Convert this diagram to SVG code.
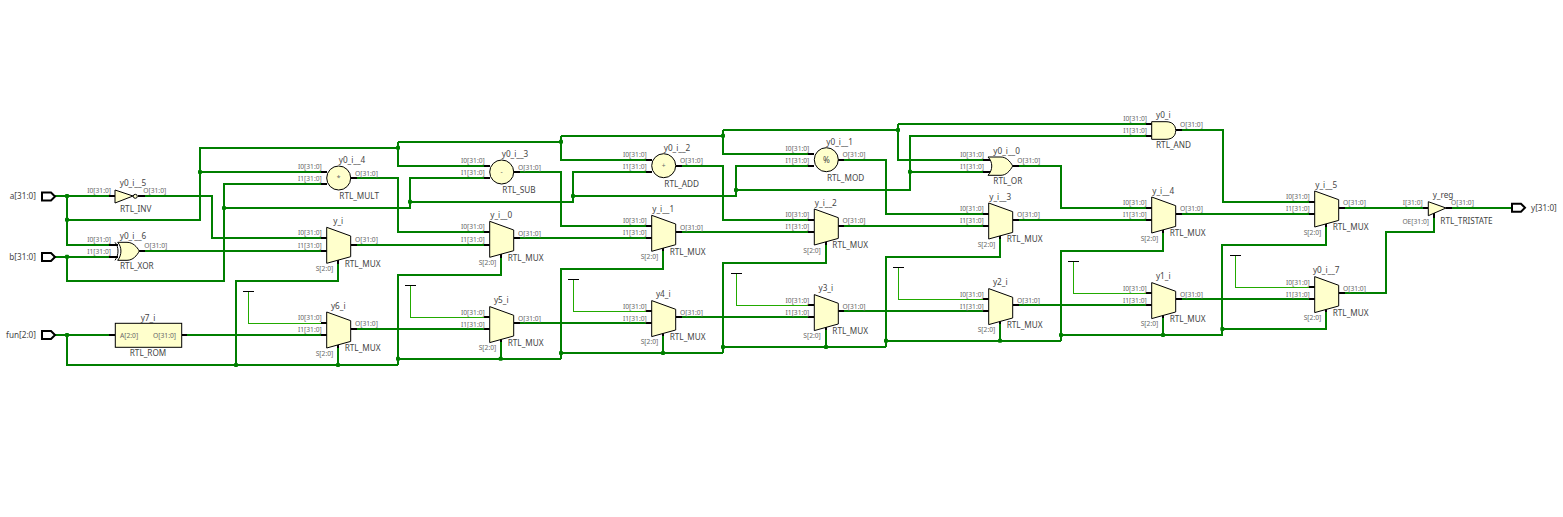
<svg xmlns="http://www.w3.org/2000/svg" width="1563" height="517" viewBox="0 0 1563 517">
<style>
text{font-family:"Noto Sans","Open Sans","DejaVu Sans",sans-serif}
.n{font-size:8.2px;fill:#444}
.p{font-size:6.7px;fill:#666}
.e{text-anchor:end}
.m{text-anchor:middle}
.w{fill:none;stroke:#007f00;stroke-width:2;shape-rendering:crispEdges}
.t{fill:none;stroke:#22aa00;stroke-width:1;shape-rendering:crispEdges}
.s{fill:none;stroke:#000;stroke-width:2;shape-rendering:crispEdges}
.b{fill:none;stroke:#000;stroke-width:1}
.bc{fill:none;stroke:#000;stroke-width:1;shape-rendering:crispEdges}
.f{fill:#ffffcc;stroke:#000;stroke-width:1}
.port{fill:#fff;stroke:#000;stroke-width:2}
</style>
<defs>
<polygon id="mux" class="f" points="0,-10.7 24,-2 24,18.7 0,25.3"/>
<rect id="j" x="-2" y="-2" width="4" height="4" rx="1" fill="#007f00"/>
</defs>
<g id="connectors">
<path class="w" d="M55 196H109M67 196V244.7H109M67 219.7H200V148H398M200 172H320.7M145 196H211.7V238H320.7M145 251H320.7M55 256.7H109M67 256.7V280.7H224V184H320.7M224 208H410V177.7H483.7M410 201.7H573V171.7H645.7M573 196H736V165.7H808.3M736 190H910V136H1145.7M910 171.7H982.7"/>
<path class="w" d="M398 141.7V166H483.7M398 141.7H561M561 135.7V159.7H645.7M561 135.7H723M723 129.7V153.7H808.3M723 129.7H898M898 124V160H982.7M898 124H1145.7"/>
<path class="w" d="M356.7 178H398V232H483.7M519.7 171.7H561V226H645.7M681.3 165.7H723V219.7H808.3M844.3 160H886V213.7H982.7M1018 166H1061V207.7H1145.7M1181.7 129.7H1223V201.7H1308.7"/>
<path class="w" d="M356.7 245H483.7M519.7 237.7H645.7M681.7 231.7H808.3M844.3 225.7H982.7M1018.7 219.7H1145.7M1181.7 213.7H1308.7M1344.7 207.7H1423M1452 207.7H1511"/>
<path class="w" d="M356.7 329H483.7M519.7 322.7H645.7M681.7 317H808.3M844.3 311H982.7M1018.7 304.7H1145.7M1181.7 299H1308.7M1344.7 292.7H1385.7V231.7H1434V218"/>
<path class="w" d="M55 335H109M187 335H320.7M67 335V365H398"/>
<path class="w" d="M338 263V280.7H236V365M338 348V365M500.7 257V274.7H398V365M398 358.7H561M500.7 342V358.7M663 251V269H561V358.7M561 353H723M663 336V353M826 245V263H723V353M723 347H886M826 330V347M1000 239V256.7H886V347M886 340.7H1061M1000 324V340.7M1163 233V250.7H1061V340.7M1061 335H1223M1163 318V335M1326 227V244.7H1222.3V335M1222.3 329H1326V312"/>
<path class="t" d="M248.3 291.3V323.3H326.7M410.3 285.3V317.3H489.7M573.7 279.3V311.3H651.7M736.3 273.3V305.3H814.3M898.3 267.3V299.3H988.7M1073.3 261.3V293.3H1151.7M1235.7 255.3V287.3H1314.7"/>
<path class="bc" d="M243 291.3H254M405 285.3H416M568 279.3H579M731 273.3H742M893 267.3H904M1068 261.3H1079M1230 255.3H1241"/>
<g id="junctions">
<use href="#j" x="67" y="196"/><use href="#j" x="67" y="219.7"/><use href="#j" x="67" y="256.7"/><use href="#j" x="67" y="335"/><use href="#j" x="200" y="172"/><use href="#j" x="224" y="208"/><use href="#j" x="398" y="147.7"/><use href="#j" x="410" y="201.7"/><use href="#j" x="561" y="141.7"/><use href="#j" x="573" y="196"/><use href="#j" x="723" y="135.7"/><use href="#j" x="736" y="190"/><use href="#j" x="898" y="130"/><use href="#j" x="910" y="171.7"/><use href="#j" x="236" y="365"/><use href="#j" x="338" y="365"/><use href="#j" x="398" y="358.7"/><use href="#j" x="500.7" y="358.7"/><use href="#j" x="561" y="353"/><use href="#j" x="663" y="353"/><use href="#j" x="723" y="347"/><use href="#j" x="826" y="347"/><use href="#j" x="886" y="340.7"/><use href="#j" x="1000" y="340.7"/><use href="#j" x="1061" y="335"/><use href="#j" x="1163" y="335"/><use href="#j" x="1222.3" y="329"/>
</g>
</g>
<g id="port_a"><path class="port" d="M42 192.5H51L55 196.5L51 200.5H42Z"/><text class="n e" x="36" y="199">a[31:0]</text></g>
<g id="port_b"><path class="port" d="M42 253H51L55 257L51 261H42Z"/><text class="n e" x="36" y="260">b[31:0]</text></g>
<g id="port_fun"><path class="port" d="M42 331H51L55 335L51 339H42Z"/><text class="n e" x="36" y="338">fun[2:0]</text></g>
<g id="port_y"><path class="port" d="M1512 203.7H1521L1525 207.7L1521 211.7H1512Z"/><text class="n" x="1531" y="211">y[31:0]</text></g>

<g id="y0_i__5"><path class="s" d="M109 196H115M138 196H145"/><polygon class="f" points="115,190 133,196 115,203"/><circle class="f" cx="135.3" cy="196.3" r="2"/><text class="n m" x="133" y="186">y0_i__5</text><text class="n" x="120" y="211.7">RTL_INV</text><text class="p e" x="111" y="192.7">I0[31:0]</text><text class="p" x="143.3" y="192.7">O[31:0]</text></g>
<g id="y0_i__6"><path class="s" d="M109 244.7H118M109 256.7H118M139 251H145"/><path class="f" d="M117.7 242.3H127C133 242.3 137 247 139.3 251C137 255.5 133 260.3 127 260.3H117.7C122 255 122 247 117.7 242.3Z"/><path class="b" d="M115 242.3C119 247 119 255 115 260.3"/><text class="n m" x="133" y="239">y0_i__6</text><text class="n" x="120" y="268.7">RTL_XOR</text><text class="p e" x="111" y="241.7">I0[31:0]</text><text class="p e" x="111" y="254">I1[31:0]</text><text class="p" x="144.3" y="247.7">O[31:0]</text></g>
<g id="y7_i"><path class="s" d="M109 335H115.3M181.7 335H187"/><rect class="f" x="115.3" y="323.3" width="66.4" height="24"/><text class="n m" x="148" y="320.7">y7_i</text><text class="n m" x="148" y="355.7">RTL_ROM</text><text class="p" x="120" y="337.7">A[2:0]</text><text class="p e" x="176" y="337.7">O[31:0]</text></g>

<g id="y0_i__4" transform="translate(326.7 172)"><path class="s" d="M-6 0H0M-6 12H0M24 6H30"/><circle class="f" cx="12" cy="6" r="12"/><text class="p m" x="12" y="8">*</text><text class="n" x="12" y="-9">y0_i__4</text><text class="n" x="12.6" y="27">RTL_MULT</text><text class="p e" x="-5" y="-2.7">I0[31:0]</text><text class="p e" x="-5" y="9.3">I1[31:0]</text><text class="p" x="28.3" y="3.7">O[31:0]</text></g>
<g id="y0_i__3" transform="translate(489.7 166)"><path class="s" d="M-6 0H0M-6 12H0M24 6H30"/><circle class="f" cx="12" cy="6" r="12"/><text class="p m" x="12" y="8">-</text><text class="n" x="12" y="-9">y0_i__3</text><text class="n" x="12.6" y="27">RTL_SUB</text><text class="p e" x="-5" y="-2.7">I0[31:0]</text><text class="p e" x="-5" y="9.3">I1[31:0]</text><text class="p" x="28.3" y="3.7">O[31:0]</text></g>
<g id="y0_i__2" transform="translate(651.7 159.7)"><path class="s" d="M-6 0H0M-6 12H0M24 6H30"/><circle class="f" cx="12" cy="6" r="12"/><text class="p m" x="12" y="8">+</text><text class="n" x="12" y="-9">y0_i__2</text><text class="n" x="12.6" y="27">RTL_ADD</text><text class="p e" x="-5" y="-2.7">I0[31:0]</text><text class="p e" x="-5" y="9.3">I1[31:0]</text><text class="p" x="28.3" y="3.7">O[31:0]</text></g>
<g id="y0_i__1" transform="translate(814.3 153.7)"><path class="s" d="M-6 0H0M-6 12H0M24 6H30"/><circle class="f" cx="12" cy="6" r="12"/><text class="n m" x="12" y="9">%</text><text class="n" x="12" y="-9">y0_i__1</text><text class="n" x="12.6" y="27">RTL_MOD</text><text class="p e" x="-5" y="-2.7">I0[31:0]</text><text class="p e" x="-5" y="9.3">I1[31:0]</text><text class="p" x="28.3" y="3.7">O[31:0]</text></g>
<g id="y0_i__0"><path class="s" d="M982.7 160H990M982.7 171.7H990M1012.7 166H1018.7"/><path class="f" d="M988 157H1001C1006 157 1010 161 1012.7 166C1010 171 1006 175.3 1001 175.3H988C993 170 993 162 988 157Z"/><text class="n" x="993.3" y="154">y0_i__0</text><text class="n" x="993.3" y="184">RTL_OR</text><text class="p e" x="984" y="157">I0[31:0]</text><text class="p e" x="984" y="169">I1[31:0]</text><text class="p" x="1017.3" y="163">O[31:0]</text></g>
<g id="y0_i"><path class="s" d="M1145.7 124H1151.7M1145.7 135.7H1151.7M1175.7 129.7H1181.7"/><path class="f" d="M1151.7 121.7H1166C1172 121.7 1175.7 125 1175.7 130.5C1175.7 136 1172 139.3 1166 139.3H1151.7Z"/><text class="n" x="1156" y="117.7">y0_i</text><text class="n" x="1156" y="147.7">RTL_AND</text><text class="p e" x="1147" y="120.7">I0[31:0]</text><text class="p e" x="1147" y="133">I1[31:0]</text><text class="p" x="1180" y="127.3">O[31:0]</text></g>

<g id="y_i" transform="translate(326.7 238)"><path class="s" d="M-6 0H0M-6 13H0M24 7H30M11.3 21V26"/><use href="#mux"/><text class="n m" x="11.5" y="-14">y_i</text><text class="n" x="18" y="28.7">RTL_MUX</text><text class="p e" x="-5" y="-2.7">I0[31:0]</text><text class="p e" x="-5" y="9.7">I1[31:0]</text><text class="p" x="28.3" y="4.3">O[31:0]</text><text class="p e" x="6.5" y="33">S[2:0]</text></g>
<g id="y_i__0" transform="translate(489.7 232)"><path class="s" d="M-6 0H0M-6 13H0M24 6H30M11 21V26"/><use href="#mux"/><text class="n m" x="11.5" y="-14">y_i__0</text><text class="n" x="18" y="28.7">RTL_MUX</text><text class="p e" x="-5" y="-2.7">I0[31:0]</text><text class="p e" x="-5" y="9.7">I1[31:0]</text><text class="p" x="28.3" y="3.7">O[31:0]</text><text class="p e" x="6.5" y="33">S[2:0]</text></g>
<g id="y_i__1" transform="translate(651.7 226)"><path class="s" d="M-6 0H0M-6 12H0M24 6H30M11.3 20V25"/><use href="#mux"/><text class="n m" x="11.5" y="-14">y_i__1</text><text class="n" x="18" y="28.7">RTL_MUX</text><text class="p e" x="-5" y="-2.7">I0[31:0]</text><text class="p e" x="-5" y="9.3">I1[31:0]</text><text class="p" x="28.3" y="3.7">O[31:0]</text><text class="p e" x="6.5" y="33">S[2:0]</text></g>
<g id="y_i__2" transform="translate(814.3 219.7)"><path class="s" d="M-6 0H0M-6 12H0M24 6H30M11.7 20V25"/><use href="#mux"/><text class="n m" x="11.5" y="-14">y_i__2</text><text class="n" x="18" y="28.7">RTL_MUX</text><text class="p e" x="-5" y="-2.7">I0[31:0]</text><text class="p e" x="-5" y="9.3">I1[31:0]</text><text class="p" x="28.3" y="3.7">O[31:0]</text><text class="p e" x="6.5" y="33">S[2:0]</text></g>
<g id="y_i__3" transform="translate(988.7 213.7)"><path class="s" d="M-6 0H0M-6 12H0M24 6H30M11.3 20V25"/><use href="#mux"/><text class="n m" x="11.5" y="-14">y_i__3</text><text class="n" x="18" y="28.7">RTL_MUX</text><text class="p e" x="-5" y="-2.7">I0[31:0]</text><text class="p e" x="-5" y="9.3">I1[31:0]</text><text class="p" x="28.3" y="3.7">O[31:0]</text><text class="p e" x="6.5" y="33">S[2:0]</text></g>
<g id="y_i__4" transform="translate(1151.7 207.7)"><path class="s" d="M-6 0H0M-6 12H0M24 6H30M11.3 20V25"/><use href="#mux"/><text class="n m" x="11.5" y="-14">y_i__4</text><text class="n" x="18" y="28.7">RTL_MUX</text><text class="p e" x="-5" y="-2.7">I0[31:0]</text><text class="p e" x="-5" y="9.3">I1[31:0]</text><text class="p" x="28.3" y="3.7">O[31:0]</text><text class="p e" x="6.5" y="33">S[2:0]</text></g>
<g id="y_i__5" transform="translate(1314.7 201.7)"><path class="s" d="M-6 0H0M-6 12H0M24 6H30M11.3 20V25"/><use href="#mux"/><text class="n m" x="11.5" y="-14">y_i__5</text><text class="n" x="18" y="28.7">RTL_MUX</text><text class="p e" x="-5" y="-2.7">I0[31:0]</text><text class="p e" x="-5" y="9.3">I1[31:0]</text><text class="p" x="28.3" y="3.7">O[31:0]</text><text class="p e" x="6.5" y="33">S[2:0]</text></g>

<g id="y6_i" transform="translate(326.7 322.7)"><path class="s" d="M-6 0H0M-6 12.3H0M24 6H30M11.3 20V25"/><use href="#mux"/><text class="n m" x="11.5" y="-14">y6_i</text><text class="n" x="18" y="28.7">RTL_MUX</text><text class="p e" x="-5" y="-2.7">I0[31:0]</text><text class="p e" x="-5" y="9.3">I1[31:0]</text><text class="p" x="28.3" y="3.7">O[31:0]</text><text class="p e" x="6.5" y="33">S[2:0]</text></g>
<g id="y5_i" transform="translate(489.7 317.3)"><path class="s" d="M-6 0H0M-6 12H0M24 6H30M11 20V25"/><use href="#mux"/><text class="n m" x="11.5" y="-14">y5_i</text><text class="n" x="18" y="28.7">RTL_MUX</text><text class="p e" x="-5" y="-2.7">I0[31:0]</text><text class="p e" x="-5" y="9.3">I1[31:0]</text><text class="p" x="28.3" y="3.7">O[31:0]</text><text class="p e" x="6.5" y="33">S[2:0]</text></g>
<g id="y4_i" transform="translate(651.7 311.3)"><path class="s" d="M-6 0H0M-6 11.7H0M24 6H30M11.3 20V25"/><use href="#mux"/><text class="n m" x="11.5" y="-14">y4_i</text><text class="n" x="18" y="28.7">RTL_MUX</text><text class="p e" x="-5" y="-2.7">I0[31:0]</text><text class="p e" x="-5" y="9.3">I1[31:0]</text><text class="p" x="28.3" y="3.7">O[31:0]</text><text class="p e" x="6.5" y="33">S[2:0]</text></g>
<g id="y3_i" transform="translate(814.3 305.3)"><path class="s" d="M-6 0H0M-6 11.7H0M24 6H30M11.7 20V25"/><use href="#mux"/><text class="n m" x="11.5" y="-14">y3_i</text><text class="n" x="18" y="28.7">RTL_MUX</text><text class="p e" x="-5" y="-2.7">I0[31:0]</text><text class="p e" x="-5" y="9.3">I1[31:0]</text><text class="p" x="28.3" y="3.7">O[31:0]</text><text class="p e" x="6.5" y="33">S[2:0]</text></g>
<g id="y2_i" transform="translate(988.7 299.3)"><path class="s" d="M-6 0H0M-6 11.7H0M24 6H30M11.3 20V25"/><use href="#mux"/><text class="n m" x="11.5" y="-14">y2_i</text><text class="n" x="18" y="28.7">RTL_MUX</text><text class="p e" x="-5" y="-2.7">I0[31:0]</text><text class="p e" x="-5" y="9.3">I1[31:0]</text><text class="p" x="28.3" y="3.7">O[31:0]</text><text class="p e" x="6.5" y="33">S[2:0]</text></g>
<g id="y1_i" transform="translate(1151.7 293.3)"><path class="s" d="M-6 0H0M-6 11.4H0M24 6H30M11.3 20V25"/><use href="#mux"/><text class="n m" x="11.5" y="-14">y1_i</text><text class="n" x="18" y="28.7">RTL_MUX</text><text class="p e" x="-5" y="-2.7">I0[31:0]</text><text class="p e" x="-5" y="9.3">I1[31:0]</text><text class="p" x="28.3" y="3.7">O[31:0]</text><text class="p e" x="6.5" y="33">S[2:0]</text></g>
<g id="y0_i__7" transform="translate(1314.7 287.3)"><path class="s" d="M-6 0H0M-6 11.7H0M24 6H30M11.3 20V25"/><use href="#mux"/><text class="n m" x="11.5" y="-14">y0_i__7</text><text class="n" x="18" y="28.7">RTL_MUX</text><text class="p e" x="-5" y="-2.7">I0[31:0]</text><text class="p e" x="-5" y="9.3">I1[31:0]</text><text class="p" x="28.3" y="3.7">O[31:0]</text><text class="p e" x="6.5" y="33">S[2:0]</text></g>

<g id="y_reg"><path class="s" d="M1423 207.7H1428.3M1446 207.7H1452M1434 212V218"/><polygon class="f" points="1428.3,201.7 1446,208 1428.3,215.7"/><text class="n" x="1432.7" y="198.3">y_reg</text><text class="n" x="1440.3" y="224">RTL_TRISTATE</text><text class="p e" x="1422.7" y="205">I[31:0]</text><text class="p" x="1451" y="205">O[31:0]</text><text class="p e" x="1429" y="224">OE[31:0]</text></g>
</svg>
